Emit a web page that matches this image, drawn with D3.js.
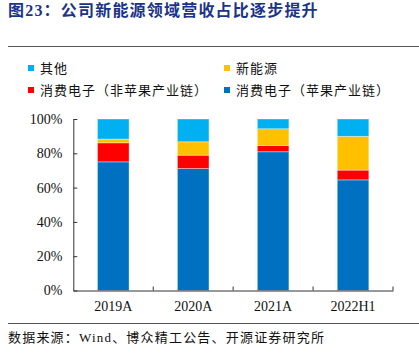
<!DOCTYPE html>
<html><head><meta charset="utf-8">
<script src="https://cdn.jsdelivr.net/npm/d3@7/dist/d3.min.js"></script>
<style>
body{margin:0;background:#fff;}
svg{display:block;}
</style></head>
<body>
<svg id="chart" width="419" height="356"></svg>
<script>
const categories = ["2019A", "2020A", "2021A", "2022H1"];
const seriesNames = ["消费电子（苹果产业链）", "消费电子（非苹果产业链）", "新能源", "其他"];
const appleChain = [75.0, 71.1, 80.9, 64.5];
const nonAppleChain = [11.1, 7.8, 3.7, 5.7];
const newEnergy = [2.2, 7.8, 9.7, 19.7];
const others = [11.7, 13.3, 5.7, 10.1];
const yTicks = [0, 20, 40, 60, 80, 100];
const colors = ["#0070C0", "#FF0000", "#FFC000", "#00B0F0"];

const svg = d3.select("#chart");
const serif = "'Liberation Serif','Noto Sans CJK SC',serif";
const cjk = "'Liberation Serif','Noto Sans CJK SC',sans-serif";

// Title
svg.append("text").attr("x", 8).attr("y", 16)
  .attr("font-family", cjk).attr("font-weight", "bold").attr("font-size", 16)
  .attr("letter-spacing", 1.2).attr("fill", "#1b3487")
  .text("图23：公司新能源领域营收占比逐步提升");
svg.append("line").attr("x1", 8).attr("x2", 419).attr("y1", 46.5).attr("y2", 46.5)
  .attr("stroke", "#555").attr("stroke-width", 1);

// Legend
const legendItems = [
  {name: seriesNames[3], color: colors[3], x: 28, y: 68},
  {name: seriesNames[2], color: colors[2], x: 224, y: 68},
  {name: seriesNames[1], color: colors[1], x: 28, y: 90},
  {name: seriesNames[0], color: colors[0], x: 224, y: 90}
];
const lg = svg.append("g");
legendItems.forEach(d => {
  lg.append("rect").attr("x", d.x).attr("y", d.y - 3).attr("width", 6).attr("height", 6).attr("fill", d.color);
  lg.append("text").attr("x", d.x + 12).attr("y", d.y).attr("dy", "0.36em")
    .attr("font-family", cjk).attr("font-size", 13).attr("letter-spacing", 1)
    .attr("fill", "#111").text(d.name);
});

// Scales
const x = d3.scaleBand().domain(categories).range([73.3, 393]).paddingInner(0.605).paddingOuter(0.3025);
const y = d3.scaleLinear().domain([0, 100]).range([290.5, 119]);

// Stack data
const rows = categories.map((c, i) => ({cat: c, s0: appleChain[i], s1: nonAppleChain[i], s2: newEnergy[i], s3: others[i]}));
const stack = d3.stack().keys(["s0", "s1", "s2", "s3"])(rows);

svg.append("g").selectAll("g").data(stack).join("g")
  .attr("fill", (d, i) => colors[i])
  .selectAll("rect").data(d => d).join("rect")
  .attr("x", d => x(d.data.cat))
  .attr("width", x.bandwidth())
  .attr("y", d => y(Math.min(100, d[1])))
  .attr("height", d => y(d[0]) - y(Math.min(100, d[1])))
  .attr("stroke", "rgba(255,255,255,0.45)").attr("stroke-width", 0.8);

// Y axis
const yAxis = svg.append("g").attr("transform", "translate(73.3,0)")
  .call(d3.axisLeft(y).tickValues(yTicks).tickFormat(d => d + "%").tickSizeInner(-4).tickSizeOuter(0).tickPadding(11));
yAxis.selectAll("text").attr("font-family", serif).attr("font-size", 14).attr("fill", "#111");
yAxis.selectAll("line,path").attr("stroke", "#333");

// X axis with boundary ticks
const xAxis = svg.append("g").attr("transform", "translate(0,290.5)")
  .call(d3.axisBottom(x).tickSize(0).tickPadding(11));
xAxis.selectAll("text").attr("font-family", serif).attr("font-size", 14).attr("fill", "#111");
xAxis.select("path").attr("stroke", "#333");
const bounds = categories.map(c => x(c) + x.bandwidth() / 2 + x.step() / 2);
xAxis.selectAll("line.bound").data(bounds).join("line").attr("class", "bound")
  .attr("x1", d => d).attr("x2", d => d).attr("y1", 0).attr("y2", -4).attr("stroke", "#333");

// Bottom line + source
svg.append("line").attr("x1", 8).attr("x2", 419).attr("y1", 323.5).attr("y2", 323.5)
  .attr("stroke", "#555").attr("stroke-width", 1);
svg.append("text").attr("x", 8).attr("y", 337).attr("dy", "0.36em")
  .attr("font-family", cjk).attr("font-size", 13).attr("letter-spacing", 1.2).attr("fill", "#111")
  .text("数据来源：Wind、博众精工公告、开源证券研究所");
</script>
</body></html>
